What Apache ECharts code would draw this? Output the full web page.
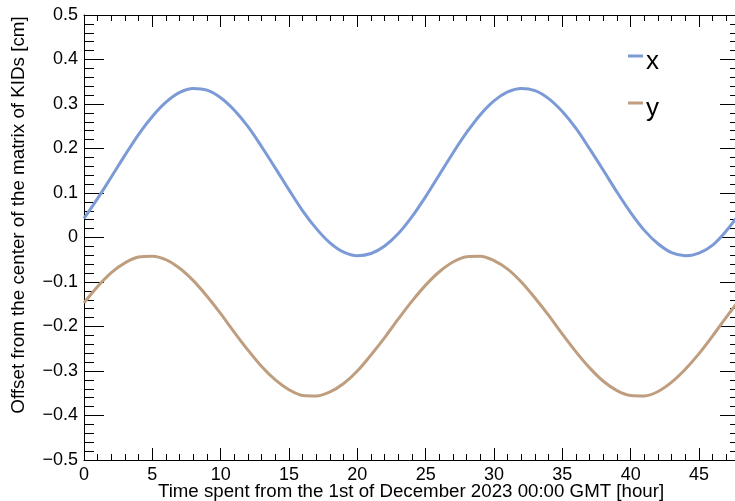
<!DOCTYPE html>
<html>
<head>
<meta charset="utf-8">
<script src="https://cdn.jsdelivr.net/npm/echarts@6/dist/echarts.min.js"></script>
<style>html,body{margin:0;padding:0;background:#fff;}#chart{width:735px;height:501px;}</style>
</head>
<body>
<div id="chart"></div>
<script>
var hours = [0,1,2,3,4,5,6,7,8,9,10,11,12,13,14,15,16,17,18,19,20,21,22,23,24,25,26,27,28,29,30,31,32,33,34,35,36,37,38,39,40,41,42,43,44,45,46,47,48];
var xOffset = [0.043,0.088,0.136,0.185,0.232,0.272,0.304,0.326,0.335,0.331,
  0.314,0.286,0.249,0.204,0.156,0.107,0.060,0.020,-0.012,-0.033,
  -0.041,-0.036,-0.019,0.009,0.047,0.092,0.141,0.190,0.236,0.276,
  0.307,0.327,0.335,0.330,0.312,0.283,0.245,0.199,0.151,0.102,
  0.056,0.016,-0.014,-0.034,-0.041,-0.035,-0.017,0.015,0.055];
var yOffset = [-0.147,-0.110,-0.079,-0.057,-0.044,-0.042,-0.050,-0.069,-0.097,-0.132,
  -0.171,-0.213,-0.253,-0.290,-0.320,-0.342,-0.355,-0.356,-0.347,-0.328,
  -0.300,-0.264,-0.225,-0.183,-0.143,-0.107,-0.077,-0.055,-0.043,-0.042,
  -0.052,-0.071,-0.100,-0.136,-0.175,-0.217,-0.257,-0.293,-0.323,-0.344,
  -0.355,-0.356,-0.346,-0.325,-0.296,-0.261,-0.221,-0.179,-0.139];
var seriesNames = ['x', 'y'];
var xTitle = 'Time spent from the 1st of December 2023 00:00 GMT [hour]';
var yTitle = 'Offset from the center of the matrix of KIDs [cm]';

var FONT = "'Liberation Sans', Arial, Helvetica, sans-serif";
function pairs(xs, ys) { return xs.map(function (h, i) { return [h, ys[i]]; }); }
function fmt(v) {
  var r = Math.round(v * 10) / 10;
  return String(r).replace('-', '\u2212');
}
var black = {color: '#000', width: 1};
function xAxisDef(pos, major, withLabels) {
  return {
    type: 'value', position: pos, min: 0, max: 48, interval: major ? 5 : 1,
    axisLine: {show: major, onZero: false, lineStyle: black},
    axisTick: {show: true, inside: true, length: major ? 12 : 6, lineStyle: black},
    axisLabel: {show: !!withLabels, fontSize: 18, color: '#000', fontFamily: FONT, margin: 6,
      showMaxLabel: false, formatter: fmt},
    splitLine: {show: false}
  };
}
function yAxisDef(pos, withLabels) {
  return {
    type: 'value', position: pos, min: -0.5, max: 0.5, interval: 0.1,
    axisLine: {show: true, onZero: false, lineStyle: black},
    axisTick: {show: true, inside: true, length: 20, lineStyle: black},
    minorTick: {show: true, splitNumber: 5, length: 10, lineStyle: black},
    axisLabel: {show: withLabels, fontSize: 18, color: '#000', fontFamily: FONT, margin: 6, formatter: fmt},
    splitLine: {show: false}, minorSplitLine: {show: false}
  };
}

var chart = echarts.init(document.getElementById('chart'), null, {renderer: 'canvas'});
chart.setOption({
  animation: false,
  backgroundColor: '#fff',
  grid: {left: 84, right: -5, top: 15, bottom: 41, containLabel: false, outerBoundsMode: 'none'},
  xAxis: [
    xAxisDef('bottom', true, true),
    xAxisDef('bottom', false, false),
    xAxisDef('top', true, false),
    xAxisDef('top', false, false)
  ],
  yAxis: [yAxisDef('left', true), yAxisDef('right', false)],
  legend: {
    orient: 'vertical', left: 623, top: 44, itemGap: 21, padding: 5,
    itemWidth: 15, itemHeight: 15, icon: 'path://M0,0L15,0L15,3L0,3Z M0,15L15,15',
    textStyle: {fontSize: 26, color: '#000', fontFamily: FONT, padding: [0, 0, 0, -2]},
    data: seriesNames
  },
  graphic: [{
    type: 'text', x: 19, y: 215, rotation: Math.PI / 2,
    style: {text: yTitle, fontSize: 18.8, fontFamily: FONT, fill: '#000', align: 'center', verticalAlign: 'middle'}
  }, {
    type: 'text', x: 411, y: 492,
    style: {text: xTitle, fontSize: 18.7, fontFamily: FONT, fill: '#000', align: 'center', verticalAlign: 'middle'}
  }],
  series: [
    {name: seriesNames[0], type: 'line', xAxisIndex: 0, yAxisIndex: 0, data: pairs(hours, xOffset),
      smooth: 0.33, smoothConstraint: false, showSymbol: false, lineStyle: {color: '#7b9ad6', width: 3}, itemStyle: {color: '#7b9ad6'}},
    {name: seriesNames[1], type: 'line', xAxisIndex: 0, yAxisIndex: 0, data: pairs(hours, yOffset),
      smooth: 0.33, smoothConstraint: false, showSymbol: false, lineStyle: {color: '#bf9e80', width: 3}, itemStyle: {color: '#bf9e80'}}
  ]
});
</script>
</body>
</html>
